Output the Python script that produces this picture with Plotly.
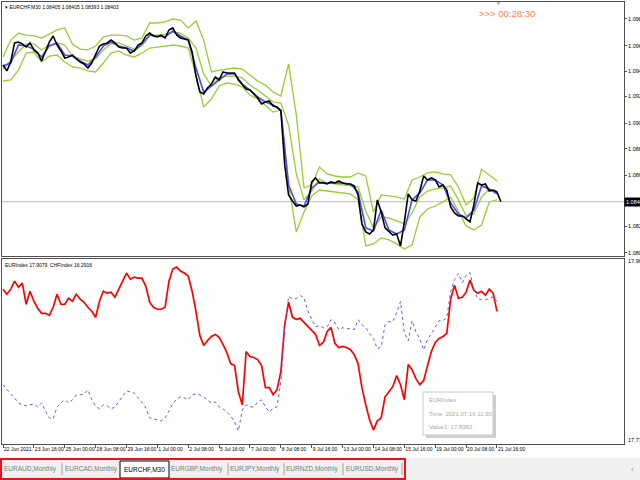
import plotly.graph_objects as go

# ---------------- data ----------------
# M30 bar index of each sample (one sample every 8 bars)
bars = list(range(0, 1033, 8))
bars16 = bars[::2]
tick_bars = list(range(0, 1025, 64))
tick_labels = ["22 Jun 2021", "23 Jun 16:00", "25 Jun 00:00", "28 Jun 08:00", "29 Jun 16:00",
               "1 Jul 00:00", "2 Jul 08:00", "5 Jul 16:00", "7 Jul 00:00", "8 Jul 08:00",
               "9 Jul 16:00", "13 Jul 00:00", "14 Jul 08:00", "15 Jul 16:00", "19 Jul 00:00",
               "20 Jul 08:00", "21 Jul 16:00"]

eurchf_close = [
    1.09478, 1.09431, 1.09501, 1.09651, 1.09658, 1.09643, 1.09619, 1.09651, 1.09596, 1.09572,
    1.09509, 1.09580, 1.09658, 1.09706, 1.09635, 1.09588, 1.09533, 1.09541, 1.09556, 1.09525,
    1.09501, 1.09486, 1.09454, 1.09493, 1.09556, 1.09627, 1.09643, 1.09651, 1.09674, 1.09651,
    1.09619, 1.09611, 1.09611, 1.09572, 1.09588, 1.09635, 1.09651, 1.09706, 1.09729, 1.09706,
    1.09698, 1.09713, 1.09690, 1.09753, 1.09769, 1.09713, 1.09690, 1.09682, 1.09674, 1.09580,
    1.09391, 1.09265, 1.09250, 1.09297, 1.09328, 1.09383, 1.09360, 1.09423, 1.09415, 1.09415,
    1.09415, 1.09360, 1.09320, 1.09289, 1.09281, 1.09250, 1.09218, 1.09171, 1.09187, 1.09195,
    1.09155, 1.09148, 1.09116, 1.08692, 1.08456, 1.08409, 1.08369, 1.08377, 1.08362, 1.08385,
    1.08558, 1.08590, 1.08550, 1.08550, 1.08542, 1.08558, 1.08550, 1.08566, 1.08550, 1.08542,
    1.08542, 1.08527, 1.08456, 1.08228, 1.08165, 1.08149, 1.08181, 1.08417, 1.08322, 1.08197,
    1.08165, 1.08141, 1.08149, 1.08055, 1.08244, 1.08464, 1.08417, 1.08409, 1.08487, 1.08605,
    1.08574, 1.08590, 1.08574, 1.08519, 1.08534, 1.08495, 1.08362, 1.08314, 1.08291, 1.08291,
    1.08267, 1.08244, 1.08377, 1.08550, 1.08534, 1.08542, 1.08487, 1.08495, 1.08479, 1.08403]

eurchf_ma = [
    1.09470, 1.09493, 1.09635, 1.09627, 1.09603, 1.09541, 1.09627, 1.09651, 1.09556, 1.09548,
    1.09509, 1.09478, 1.09541, 1.09627, 1.09658, 1.09627, 1.09611, 1.09588, 1.09643, 1.09713,
    1.09706, 1.09698, 1.09745, 1.09706, 1.09674, 1.09454, 1.09265, 1.09313, 1.09360, 1.09407,
    1.09407, 1.09328, 1.09281, 1.09226, 1.09187, 1.09163, 1.09124, 1.08534, 1.08385, 1.08369,
    1.08511, 1.08558, 1.08550, 1.08550, 1.08550, 1.08542, 1.08479, 1.08197, 1.08173, 1.08338,
    1.08181, 1.08149, 1.08181, 1.08417, 1.08472, 1.08574, 1.08574, 1.08534, 1.08393, 1.08307,
    1.08275, 1.08338, 1.08527, 1.08503, 1.08464]

band_upper = [
    1.09541, 1.09674, 1.09729, 1.09713, 1.09706, 1.09690, 1.09721, 1.09753, 1.09769, 1.09643,
    1.09603, 1.09596, 1.09627, 1.09698, 1.09713, 1.09713, 1.09706, 1.09674, 1.09690, 1.09808,
    1.09808, 1.09816, 1.09839, 1.09831, 1.09769, 1.09824, 1.09674, 1.09423, 1.09438, 1.09446,
    1.09454, 1.09446, 1.09399, 1.09352, 1.09320, 1.09265, 1.09234, 1.09486, 1.09085, 1.08511,
    1.08534, 1.08676, 1.08621, 1.08605, 1.08597, 1.08597, 1.08629, 1.08605, 1.08322, 1.08456,
    1.08448, 1.08440, 1.08424, 1.08574, 1.08597, 1.08629, 1.08637, 1.08621, 1.08613, 1.08519,
    1.08377, 1.08432, 1.08660, 1.08613, 1.08566]

band_middle = [
    1.09446, 1.09517, 1.09580, 1.09643, 1.09643, 1.09596, 1.09635, 1.09651, 1.09635, 1.09548,
    1.09525, 1.09509, 1.09525, 1.09596, 1.09643, 1.09651, 1.09627, 1.09603, 1.09627, 1.09706,
    1.09713, 1.09721, 1.09737, 1.09729, 1.09690, 1.09611, 1.09407, 1.09313, 1.09376, 1.09391,
    1.09391, 1.09376, 1.09320, 1.09281, 1.09234, 1.09187, 1.09179, 1.09006, 1.08621, 1.08417,
    1.08487, 1.08582, 1.08550, 1.08542, 1.08534, 1.08527, 1.08519, 1.08330, 1.08197, 1.08283,
    1.08275, 1.08252, 1.08228, 1.08314, 1.08440, 1.08487, 1.08503, 1.08511, 1.08527, 1.08417,
    1.08291, 1.08307, 1.08440, 1.08503, 1.08487]

band_lower = [
    1.09352, 1.09360, 1.09438, 1.09572, 1.09580, 1.09501, 1.09548, 1.09556, 1.09501, 1.09462,
    1.09454, 1.09431, 1.09423, 1.09493, 1.09572, 1.09588, 1.09556, 1.09541, 1.09572, 1.09611,
    1.09619, 1.09627, 1.09635, 1.09627, 1.09611, 1.09399, 1.09148, 1.09210, 1.09313, 1.09336,
    1.09328, 1.09305, 1.09242, 1.09210, 1.09155, 1.09108, 1.09124, 1.08534, 1.08165, 1.08322,
    1.08448, 1.08495, 1.08487, 1.08479, 1.08472, 1.08464, 1.08417, 1.08055, 1.08071, 1.08118,
    1.08102, 1.08071, 1.08031, 1.08063, 1.08283, 1.08346, 1.08369, 1.08401, 1.08440, 1.08322,
    1.08212, 1.08181, 1.08220, 1.08401, 1.08417]

eur_index = [
    17.930, 17.925, 17.930, 17.938, 17.932, 17.936, 17.915, 17.928, 17.918, 17.911,
    17.906, 17.906, 17.904, 17.912, 17.925, 17.915, 17.915, 17.921, 17.918, 17.925,
    17.920, 17.917, 17.912, 17.908, 17.902, 17.918, 17.928, 17.926, 17.927, 17.922,
    17.930, 17.938, 17.946, 17.940, 17.942, 17.941, 17.941, 17.933, 17.917, 17.912,
    17.910, 17.910, 17.912, 17.938, 17.950, 17.952, 17.948, 17.946, 17.943, 17.928,
    17.908, 17.884, 17.874, 17.879, 17.883, 17.885, 17.882, 17.875, 17.867, 17.856,
    17.854, 17.828, 17.815, 17.868, 17.863, 17.862, 17.860, 17.854, 17.832, 17.832,
    17.825, 17.830, 17.848, 17.895, 17.917, 17.902, 17.900, 17.901, 17.897, 17.893,
    17.890, 17.885, 17.874, 17.877, 17.888, 17.892, 17.876, 17.872, 17.873, 17.872,
    17.870, 17.865, 17.856, 17.832, 17.815, 17.800, 17.790, 17.799, 17.802, 17.823,
    17.828, 17.833, 17.844, 17.835, 17.820, 17.855, 17.850, 17.841, 17.835, 17.839,
    17.854, 17.868, 17.877, 17.881, 17.883, 17.886, 17.920, 17.934, 17.921, 17.922,
    17.927, 17.939, 17.929, 17.926, 17.928, 17.924, 17.930, 17.926, 17.9079]

chf_index = [
    16.2003, 16.1948, 16.1904, 16.1860, 16.1805, 16.1783, 16.1772, 16.1783, 16.1794, 16.1761,
    16.1805, 16.1717, 16.1640, 16.1629, 16.1761, 16.1805, 16.1838, 16.1805, 16.1838, 16.1893,
    16.1893, 16.1904, 16.1948, 16.1838, 16.1772, 16.1739, 16.1783, 16.1772, 16.1739, 16.1761,
    16.1816, 16.1882, 16.1937, 16.1926, 16.1915, 16.1860, 16.1816, 16.1750, 16.1640, 16.1629,
    16.1618, 16.1607, 16.1640, 16.1717, 16.1794, 16.1849, 16.1871, 16.1860, 16.1838, 16.1893,
    16.1904, 16.1893, 16.1871, 16.1838, 16.1805, 16.1816, 16.1761, 16.1739, 16.1706, 16.1662,
    16.1596, 16.1497, 16.1728, 16.1783, 16.1761, 16.1761, 16.1816, 16.1838, 16.1761, 16.1706,
    16.1750, 16.1761, 16.2036, 16.2630, 16.2971, 16.2949, 16.2949, 16.2982, 16.2960, 16.2817,
    16.2718, 16.2641, 16.2652, 16.2630, 16.2641, 16.2718, 16.2685, 16.2608, 16.2630, 16.2619,
    16.2619, 16.2608, 16.2718, 16.2663, 16.2630, 16.2564, 16.2509, 16.2399, 16.2421, 16.2663,
    16.2696, 16.2696, 16.2795, 16.2916, 16.2575, 16.2487, 16.2707, 16.2586, 16.2509, 16.2388,
    16.2498, 16.2564, 16.2641, 16.2707, 16.2707, 16.2740, 16.3026, 16.3158, 16.3224, 16.3125,
    16.3202, 16.3235, 16.3048, 16.2949, 16.2938, 16.2938, 16.2949, 16.2971, 16.2916]

price_ticks = [1.0984, 1.0963, 1.0943, 1.0923, 1.0902, 1.0882, 1.0861, 1.0821, 1.0800]
price_tick_text = ["1.0984", "1.0963", "1.0943", "1.0923", "1.0902", "1.0882", "1.0861", "1.0821", "1.0800"]
current_price = 1.08403
tabs = ["EURAUD,Monthly", "EURCAD,Monthly", "EURCHF,M30", "EURGBP,Monthly",
        "EURJPY,Monthly", "EURNZD,Monthly", "EURUSD,Monthly"]

# ---------------- figure ----------------
W, H = 640, 480
F = "Liberation Sans, Arial, sans-serif"


def px(x):
    return x / W


def py(y):
    return 1 - y / H


fig = go.Figure()
green = "#9acd32"
for arr in (band_upper, band_middle, band_lower):
    fig.add_trace(go.Scatter(x=bars16, y=arr, mode="lines", line=dict(color=green, width=1.3),
                             xaxis="x", yaxis="y", hoverinfo="skip"))
fig.add_trace(go.Scatter(x=bars16, y=eurchf_ma, mode="lines", line=dict(color="#4a4aff", width=1.6),
                         xaxis="x", yaxis="y", hoverinfo="skip"))
fig.add_trace(go.Scatter(x=bars, y=eurchf_close, mode="lines", line=dict(color="#000000", width=1.6),
                         xaxis="x", yaxis="y", hoverinfo="skip"))
fig.add_trace(go.Scatter(x=bars[:129], y=eur_index, mode="lines", line=dict(color="#ff0000", width=1.7),
                         xaxis="x2", yaxis="y2", hoverinfo="skip"))
fig.add_trace(go.Scatter(x=bars[:129], y=chf_index, mode="lines",
                         line=dict(color="#5a5aff", width=1, dash="dot"),
                         xaxis="x2", yaxis="y3", hoverinfo="skip"))

xr = [-2.07, 1287.3]
edge = "#505050"
fig.update_layout(
    width=W, height=H, margin=dict(l=0, r=0, t=0, b=0),
    paper_bgcolor="white", plot_bgcolor="white", showlegend=False,
    xaxis=dict(domain=[px(2), px(624)], range=xr, anchor="y", showgrid=False, zeroline=False,
               showticklabels=False, showline=True, mirror=True, linecolor=edge, linewidth=1),
    yaxis=dict(domain=[py(256), py(2)], range=[1.07976, 1.09973], anchor="x", side="right",
               showgrid=False, zeroline=False, showline=True, mirror=True, linecolor=edge,
               tickvals=price_ticks, ticktext=price_tick_text, ticks="outside", ticklen=2,
               tickcolor=edge, ticklabelstandoff=0,
               tickfont=dict(family=F, size=5.5, color="#000"), automargin=False),
    xaxis2=dict(domain=[px(2), px(624)], range=xr, anchor="y2", showgrid=False, zeroline=False,
                showline=True, mirror=True, linecolor=edge, tickvals=tick_bars, ticktext=tick_labels,
                ticks="outside", ticklen=3, tickcolor=edge, ticklabelposition="outside right",
                tickangle=0, tickfont=dict(family=F, size=5, color="#000"), automargin=False),
    yaxis2=dict(domain=[py(444), py(258.5)], range=[17.776, 17.9605], anchor="x2", side="right",
                showgrid=False, zeroline=False, showline=True, mirror=True, linecolor=edge,
                showticklabels=False, automargin=False),
    yaxis3=dict(overlaying="y2", range=[16.1354, 16.3389], visible=False),
)

shapes = [
    # current price line
    dict(type="line", xref="paper", yref="y", x0=px(2), x1=px(624), y0=current_price, y1=current_price,
         line=dict(color="#bcbcbc", width=1), layer="below"),
    # tooltip shadow and box
    dict(type="rect", xref="paper", yref="paper", x0=px(426), x1=px(496), y0=py(438), y1=py(395),
         fillcolor="#cfcfcf", line=dict(width=0)),
    dict(type="rect", xref="paper", yref="paper", x0=px(423), x1=px(493), y0=py(435), y1=py(392),
         fillcolor="white", line=dict(color="#c8c8c8", width=1)),
    # tab bar
    dict(type="rect", xref="paper", yref="paper", x0=0, x1=1, y0=0, y1=py(458),
         fillcolor="#f0f0f0", line=dict(width=0)),
    dict(type="rect", xref="paper", yref="paper", x0=px(120), x1=px(169), y0=py(478), y1=py(461),
         fillcolor="white", line=dict(color="#000", width=1)),
    dict(type="rect", xref="paper", yref="paper", x0=px(1), x1=px(405), y0=py(479), y1=py(459),
         line=dict(color="#e8141c", width=2)),
]
for sx in (62, 228, 284, 343, 402):
    shapes.append(dict(type="line", xref="paper", yref="paper", x0=px(sx), x1=px(sx),
                       y0=py(475), y1=py(463), line=dict(color="#a0a0a0", width=1)))
fig.update_layout(shapes=shapes)

ann = []


def text(x, y, s, size=5, color="#000", xanchor="left", **kw):
    ann.append(dict(x=px(x), y=py(y), xref="paper", yref="paper", text=s, showarrow=False,
                    xanchor=xanchor, yanchor="middle", font=dict(family=F, size=size, color=color), **kw))


text(3, 7, "▾ EURCHF,M30 1.08405 1.08405 1.08393 1.08403")
text(3, 265, "EURIndex 17.9079  CHFIndex 16.2916")
text(477, 13, "&gt;&gt;&gt; 00:28:30", size=9.5, color="#ff7f50")
text(498, 3, "▼", size=5, color="#9a9a9a", xanchor="center")
text(626, 261, "17.962", size=5.5)
text(626, 440, "17.774", size=5.5)
text(427, 400, "EURIndex", size=6, color="#a8a8a8")
text(427, 414, "Time: 2021.07.16 11:30", size=6, color="#a8a8a8")
text(427, 427, "Value1: 17.8382", size=6, color="#a8a8a8")
ann.append(dict(x=px(624), y=current_price, xref="paper", yref="y", text="1.0840", showarrow=False,
                xanchor="left", yanchor="middle", bgcolor="#000", borderpad=1,
                font=dict(family=F, size=5.5, color="#fff")))
tab_centers = [30, 91, 144, 197, 255, 312, 372]
for name, cx in zip(tabs, tab_centers):
    text(cx, 469, name, size=6.5, color="#000" if name == "EURCHF,M30" else "#7a7a7a", xanchor="center")
text(632, 469, "‹", size=8, color="#8a8a8a", xanchor="center")
fig.update_layout(annotations=ann)

fig.write_html("out.html", config={"displayModeBar": False},
               post_script="document.body.style.margin='0';document.body.style.overflow='hidden';")
